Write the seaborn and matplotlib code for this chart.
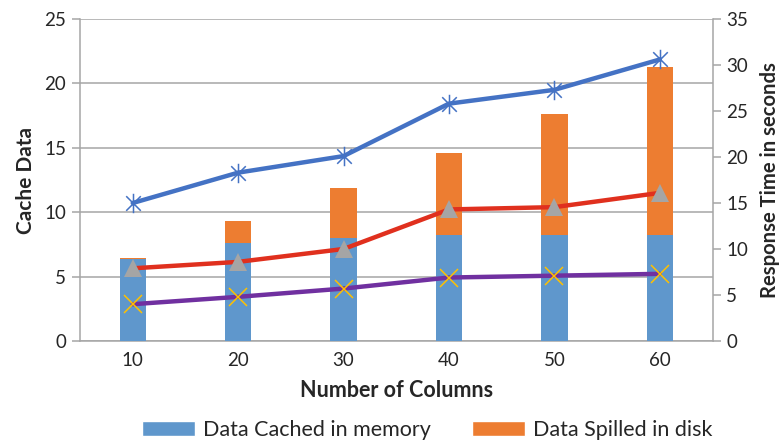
import numpy as np
import pandas as pd
import matplotlib
matplotlib.use("Agg")
import matplotlib.pyplot as plt
from matplotlib.path import Path
from matplotlib.patches import Patch
import seaborn as sns

# ---- data ----
columns = ["10", "20", "30", "40", "50", "60"]
cached_memory = [6.4, 7.6, 8.0, 8.2, 8.2, 8.2]
spilled_disk = [0.07, 1.7, 3.9, 6.4, 9.4, 13.1]
resp_blue = [15.0, 18.3, 20.1, 25.8, 27.3, 30.6]
resp_red = [7.9, 8.6, 10.0, 14.3, 14.55, 16.1]
resp_purple = [4.0, 4.8, 5.7, 6.9, 7.1, 7.3]

left_ticks = [0, 5, 10, 15, 20, 25]
right_ticks = [0, 5, 10, 15, 20, 25, 30, 35]

sns.set_theme(style="white")
plt.rcParams["font.family"] = ["Lato", "DejaVu Sans"]

FS = 13.5
LFS = 15.5
GRAY = "#a6a6a6"
BAR_BLUE = "#5f97cc"
BAR_ORANGE = "#ed7d31"

fig = plt.figure(figsize=(7.84, 4.41), dpi=100)
ax = fig.add_axes([80 / 784, 1 - 341 / 441, (712.5 - 80) / 784, (341 - 19) / 441])

totals = [m + s for m, s in zip(cached_memory, spilled_disk)]
df = pd.DataFrame({"col": columns, "total": totals, "mem": cached_memory})

sns.barplot(data=df, x="col", y="total", color=BAR_ORANGE, saturation=1,
            width=0.25, ax=ax, zorder=2, linewidth=0)
sns.barplot(data=df, x="col", y="mem", color=BAR_BLUE, saturation=1,
            width=0.25, ax=ax, zorder=3, linewidth=0)

ax.set_ylim(0, 25)
ax.set_yticks(left_ticks)
ax.set_xlim(-0.5, 5.5)
ax.yaxis.grid(True, color=GRAY, linewidth=1.1, zorder=0)
ax.set_axisbelow(True)
for s in ["top", "right"]:
    ax.spines[s].set_visible(False)
for s in ["left", "bottom"]:
    ax.spines[s].set_color(GRAY)
    ax.spines[s].set_linewidth(1.1)
ax.tick_params(axis="y", length=6, width=1.1, color=GRAY, labelsize=FS, pad=4,
               left=True, direction="out")
ax.tick_params(axis="x", length=0, labelsize=FS, pad=8)
ax.set_xlabel("Number of Columns", fontsize=LFS, fontweight="bold", labelpad=8)
ax.set_ylabel("Cache Data", fontsize=15, fontweight="bold", labelpad=6)

ax2 = ax.twinx()
line_specs = [
    (resp_blue, "#4472c4", "star", "#4472c4"),
    (resp_red, "#e0301e", "^", "#a5a5a5"),
    (resp_purple, "#7030a0", "x", "#ffc000"),
]
star = Path([(0, -1), (0, 1), (-0.75, -0.75), (0.75, 0.75), (-0.75, 0.75), (0.75, -0.75)],
            [Path.MOVETO, Path.LINETO, Path.MOVETO, Path.LINETO, Path.MOVETO, Path.LINETO])
for vals, lc, mk, mc in line_specs:
    n_before = len(ax2.lines)
    sns.pointplot(x=columns, y=vals, color=lc, errorbar=None, ax=ax2,
                  markers="o", linestyles="-")
    ln = ax2.lines[n_before]
    ln.set_linewidth(3.2)
    ln.set_zorder(4)
    if mk == "star":
        ln.set_marker(star)
        ln.set_markersize(14)
        ln.set_markerfacecolor("none")
        ln.set_markeredgecolor(mc)
        ln.set_markeredgewidth(1.1)
    elif mk == "^":
        ln.set_marker("^")
        ln.set_markersize(13)
        ln.set_markerfacecolor(mc)
        ln.set_markeredgecolor(mc)
        ln.set_markeredgewidth(0)
    else:
        ln.set_marker("x")
        ln.set_markersize(13)
        ln.set_markeredgecolor(mc)
        ln.set_markeredgewidth(1.1)

ax2.set_ylim(0, 35)
ax2.set_yticks(right_ticks)
ax2.set_xlim(-0.5, 5.5)
ax2.grid(False)
for s in ["top", "left", "bottom"]:
    ax2.spines[s].set_visible(False)
ax2.spines["right"].set_color(GRAY)
ax2.spines["right"].set_linewidth(1.1)
ax2.tick_params(axis="y", length=6, width=1.1, color=GRAY, labelsize=FS, pad=4,
                right=True, direction="out")
ax2.set_ylabel("Response Time in seconds", fontsize=14.6, fontweight="bold", labelpad=8)
ax2.set_xlabel("")

handles = [Patch(facecolor=BAR_BLUE, label="Data Cached in memory"),
           Patch(facecolor=BAR_ORANGE, label="Data Spilled in disk")]
fig.legend(handles=handles, loc="center", bbox_to_anchor=(427 / 784, 1 - 430 / 441),
           ncol=2, frameon=False, fontsize=LFS, handlelength=2.5, handleheight=0.65,
           columnspacing=1.9, handletextpad=0.35)

fig.savefig("out.png", dpi=100)
